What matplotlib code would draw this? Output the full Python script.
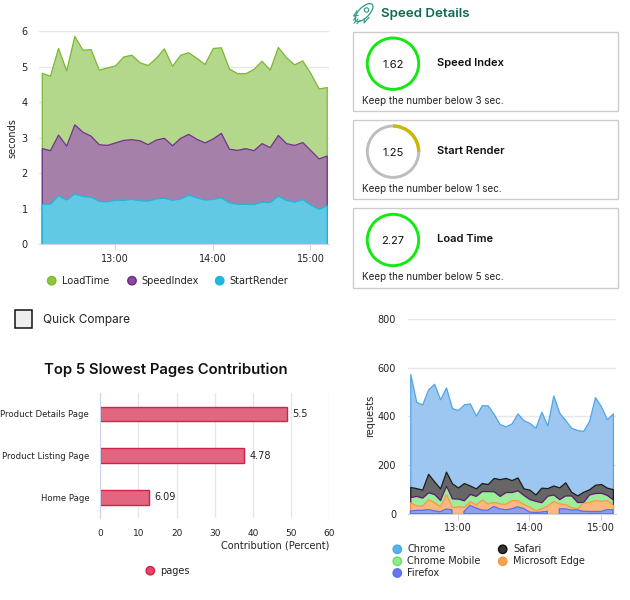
import numpy as np
import matplotlib
matplotlib.use('Agg')
import matplotlib.pyplot as plt
from matplotlib.patches import Arc, Circle, Ellipse, Rectangle

# top left chart (seconds, one point every 5 min from 12:15)
load_time = [4.83, 4.75, 5.53, 4.90, 5.87, 5.48, 5.50, 4.92, 4.98, 5.04, 5.29, 5.34,
             5.13, 5.05, 5.25, 5.52, 5.03, 5.34, 5.41, 5.25, 5.08, 5.53, 5.55, 4.95,
             4.82, 4.82, 4.94, 5.17, 4.92, 5.56, 5.27, 5.07, 5.18, 4.82, 4.39, 4.43]
speed_index = [2.71, 2.65, 3.09, 2.78, 3.38, 3.17, 3.06, 2.82, 2.80, 2.87, 2.94, 2.96,
               2.93, 2.82, 2.95, 3.00, 2.79, 3.00, 3.11, 2.97, 2.87, 2.98, 3.14, 2.69,
               2.66, 2.71, 2.65, 2.85, 2.74, 3.08, 2.85, 2.80, 2.88, 2.65, 2.42, 2.50]
start_render = [1.14, 1.14, 1.38, 1.26, 1.43, 1.36, 1.34, 1.22, 1.21, 1.25, 1.25, 1.28,
                1.24, 1.23, 1.29, 1.31, 1.25, 1.29, 1.40, 1.32, 1.26, 1.28, 1.32, 1.18,
                1.14, 1.14, 1.13, 1.20, 1.19, 1.37, 1.25, 1.20, 1.27, 1.12, 1.00, 1.10]

# bottom right chart (requests, one point every 5 min from 12:20)
chrome = [574, 460, 449, 511, 534, 470, 519, 434, 426, 449, 453, 403, 446, 445, 410, 368, 359, 371,
          412, 384, 373, 353, 419, 362, 486, 415, 385, 353, 344, 340, 381, 479, 441, 388, 412]
safari = [110, 105, 99, 164, 133, 104, 173, 125, 108, 126, 116, 104, 126, 122, 147, 142, 147, 138,
          149, 104, 99, 79, 107, 105, 116, 108, 129, 90, 75, 90, 100, 119, 122, 107, 101]
chrome_mobile = [68, 73, 66, 88, 81, 56, 115, 63, 62, 55, 81, 73, 93, 93, 92, 73, 89, 89,
                 96, 77, 60, 53, 47, 74, 79, 60, 75, 75, 48, 48, 79, 85, 86, 77, 58]
edge = [47, 34, 33, 60, 47, 31, 80, 27, 31, 28, 52, 38, 58, 42, 49, 42, 41, 56,
        55, 40, 29, 14, 23, 34, 52, 42, 40, 26, 23, 45, 49, 56, 53, 56, 36]
firefox = [11, 14, 14, 17, 12, 8, 19, 16, np.nan, 8, 34, 24, 15, 14, 30, 20, 16, 20,
           28, 22, 7, 5, 7, 10, np.nan, 20, 20, 15, 16, 10, 9, 9, 9, 17, 16]

# bar chart
pages = ['Product Details Page', 'Product Listing Page', 'Home Page']
contribution = [48.8, 37.7, 12.7]
page_labels = ['5.5', '4.78', '6.09']

# speed cards
card_names = ['Speed Index', 'Start Render', 'Load Time']
card_values = ['1.62', '1.25', '2.27']
card_notes = ['Keep the number below 3 sec.', 'Keep the number below 1 sec.', 'Keep the number below 5 sec.']

hour_ticks = [780, 840, 900]
hour_labels = ['13:00', '14:00', '15:00']
times_top = np.arange(735, 915, 5)
times_bottom = np.arange(740, 915, 5)

W, H = 630, 600
GRID = '#e6e6ec'
AXIS = '#ccd6eb'
TEXT = '#222222'
CARD_FONT = 'Inter'

fig = plt.figure(figsize=(W / 100, H / 100), dpi=100)


def px_axes(left, top, right, bottom):
    ax = fig.add_axes([left / W, 1 - bottom / H, (right - left) / W, (bottom - top) / H])
    ax.patch.set_alpha(0)
    for s in ['top', 'right', 'left']:
        ax.spines[s].set_visible(False)
    ax.spines['bottom'].set_color(AXIS)
    ax.set_axisbelow(True)
    return ax


def area(ax, x, y, fill, line):
    ax.fill_between(x, 0, y, facecolor=fill, edgecolor=line, linewidth=0.9)


# top left
ax1 = px_axes(39, 31.3, 329, 244.3)
area(ax1, times_top, load_time, '#b3d78b', '#7cb82f')
area(ax1, times_top, speed_index, '#a581aa', '#74318c')
area(ax1, times_top, start_render, '#62c9e4', '#1fb7dc')
ax1.set_xlim(733.3, 911.4)
ax1.set_ylim(0, 6)
ax1.set_yticks(range(0, 7))
ax1.set_xticks(hour_ticks)
ax1.set_xticklabels(hour_labels)
ax1.grid(axis='y', color=GRID, linewidth=1)
ax1.tick_params(axis='y', length=0, labelsize=7, labelcolor=TEXT, pad=8)
ax1.tick_params(axis='x', length=4, color=AXIS, labelsize=7, labelcolor=TEXT, pad=3)
ax1.set_ylabel('seconds', fontsize=7, color=TEXT, labelpad=3)

# bottom right
ax2 = px_axes(408, 319, 616, 513.7)
area(ax2, times_bottom, chrome, '#9dc6f0', '#4ea6e8')
area(ax2, times_bottom, safari, '#666666', '#1c1c1c')
area(ax2, times_bottom, chrome_mobile, '#9eed9b', '#5a1a6e')
area(ax2, times_bottom, edge, '#fdb87f', '#f79a45')
area(ax2, times_bottom, firefox, '#8f9ef0', '#5a6ee8')
ax2.set_xlim(738.1, 912.6)
ax2.set_ylim(0, 800)
ax2.set_yticks([0, 200, 400, 600, 800])
ax2.set_xticks(hour_ticks)
ax2.set_xticklabels(hour_labels)
ax2.grid(axis='y', color=GRID, linewidth=1)
ax2.tick_params(axis='y', length=0, labelsize=7, labelcolor=TEXT, pad=8.6)
ax2.tick_params(axis='x', length=4, color=AXIS, labelsize=7, labelcolor=TEXT, pad=3)
ax2.set_ylabel('requests', fontsize=7, color=TEXT, labelpad=2)

# bars
ax3 = px_axes(100.3, 393, 329.3, 518.3)
ypos = np.arange(len(pages))
ax3.barh(ypos, contribution, height=0.35, color='#e2667f', edgecolor='#d81e4a', linewidth=1)
for y, v, lab in zip(ypos, contribution, page_labels):
    ax3.annotate(lab, (v, y), xytext=(4, 0), textcoords='offset points', va='center',
                 fontsize=7, color=TEXT)
ax3.set_xlim(0, 60)
ax3.set_ylim(2.5, -0.5)
ax3.set_yticks(ypos)
ax3.set_yticklabels(pages)
ax3.set_xticks(range(0, 70, 10))
ax3.grid(axis='x', color=GRID, linewidth=1)
ax3.spines['bottom'].set_visible(False)
ax3.spines['left'].set_visible(True)
ax3.spines['left'].set_color(AXIS)
ax3.tick_params(axis='y', length=0, labelsize=6.1, labelcolor=TEXT, pad=8)
ax3.tick_params(axis='x', length=0, labelsize=6.5, labelcolor=TEXT, pad=8)

# overlay in pixel coordinates for cards, legends and headings
ov = fig.add_axes([0, 0, 1, 1])
ov.set_xlim(0, W)
ov.set_ylim(H, 0)
ov.axis('off')
ov.patch.set_alpha(0)

ov.text(166, 370, 'Top 5 Slowest Pages Contribution', ha='center', va='center',
        fontsize=10.7, fontweight='semibold', family=CARD_FONT, color='#111111')
ov.text(329, 545.6, 'Contribution (Percent)', ha='right', va='center', fontsize=7, color=TEXT)

ov.add_patch(Rectangle((15, 310), 17.3, 17.7, facecolor='#eeeeee', edgecolor='#111111', linewidth=1.1))
ov.text(42.7, 320, 'Quick Compare', va='center', fontsize=8.5, family=CARD_FONT, color=TEXT)


def legend_item(x, y, tx, label, color, edge_color, weight='normal'):
    ov.add_patch(Circle((x, y), 4.2, facecolor=color, edgecolor=edge_color, linewidth=1))
    ov.text(tx, y, label, va='center', fontsize=7, color=TEXT, fontweight=weight)


legend_item(51.7, 280.7, 62.3, 'LoadTime', '#90c63e', '#7cb82f')
legend_item(132, 280.7, 141.7, 'SpeedIndex', '#8b4a9c', '#6a2a80')
legend_item(219.7, 280.7, 229.7, 'StartRender', '#1fb7dc', '#1fb7dc')
legend_item(397.3, 549.3, 407.3, 'Chrome', '#5bb0ee', '#4ea6e8')
legend_item(397.3, 561.3, 407.3, 'Chrome Mobile', '#8dee88', '#6cdc68')
legend_item(397.3, 573, 407.3, 'Firefox', '#6877ee', '#5a6ee8')
legend_item(502.7, 549.3, 513, 'Safari', '#333333', '#111111')
legend_item(502.7, 561.3, 513, 'Microsoft Edge', '#fb9f50', '#f79a45')
legend_item(150.3, 570.7, 160.3, 'pages', '#e2476a', '#d81e4a')

# speed details heading with rocket
ov.text(380.7, 14, 'Speed Details', va='center', fontsize=9.6, fontweight='semibold',
        family=CARD_FONT, color='#0d6b52')
ROCKET = '#2c9a86'
ov.add_patch(Ellipse((364, 12.5), 23, 10.5, angle=-45, fill=False, edgecolor=ROCKET, linewidth=0.9))
ov.add_patch(Circle((366.5, 10), 2.2, fill=False, edgecolor=ROCKET, linewidth=0.8))
ov.plot([357, 353.5, 358], [11, 16, 15.5], color=ROCKET, lw=0.8)
ov.plot([364.5, 364, 369], [19, 23, 17.5], color=ROCKET, lw=0.8)
ov.plot([354, 358], [23, 19], color=ROCKET, lw=0.8)
ov.plot([357, 360], [23.5, 20.5], color=ROCKET, lw=0.8)
ov.plot([353.5, 356], [20, 17.5], color=ROCKET, lw=0.8)

card_tops = [31.7, 119.7, 208]
card_colors = ['#11e911', '#bdbdbd', '#11e911']
for top, name, val, note, ring in zip(card_tops, card_names, card_values, card_notes, card_colors):
    ov.add_patch(Rectangle((353.3, top), 264.4, 79.5, facecolor='white', edgecolor='#cccccc', linewidth=1))
    cy = top + 32
    ov.add_patch(Circle((393, cy), 25.7, fill=False, edgecolor=ring, linewidth=2.1))
    if name == 'Start Render':
        # y axis is flipped here, so the arc runs from 270 to 360
        ov.add_patch(Arc((393, cy), 51.4, 51.4, theta1=270, theta2=360, color='#c9b900', linewidth=2.4))
    ov.text(393, cy + 1, val, ha='center', va='center', fontsize=8, family=CARD_FONT, color='#111111')
    ov.text(436.7, cy - 0.5, name, va='center', fontsize=8, fontweight='semibold', family=CARD_FONT, color='#111111')
    ov.text(362, top + 69.3, note, va='center', fontsize=7.1, family=CARD_FONT, color='#222222')

fig.savefig('out.png', dpi=100)
